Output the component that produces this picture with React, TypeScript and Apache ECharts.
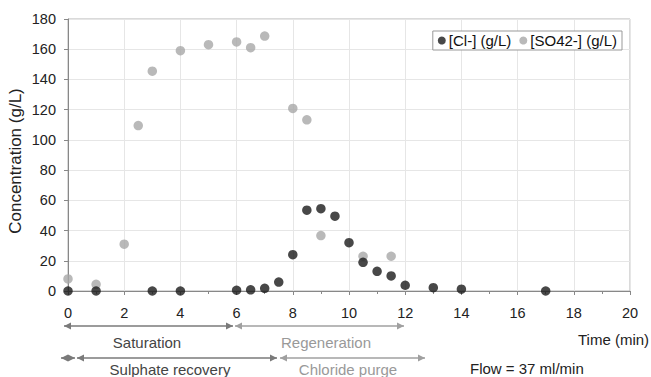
import React, { useEffect, useRef } from "react";
import * as echarts from "echarts";

const clTime = [0, 1, 3, 4, 6, 6.5, 7, 7.5, 8, 8.5, 9, 9.5, 10, 10.5, 11, 11.5, 12, 13, 14, 17];
const clValues = [0, 0, 0, 0, 0.5, 0.8, 1.8, 5.9, 24, 53.5, 54.5, 49.5, 32, 19, 13, 10, 3.8, 2.2, 1.2, 0];
const so4Time = [0, 1, 2, 2.5, 3, 4, 5, 6, 6.5, 7, 8, 8.5, 9, 10.5, 11.5];
const so4Values = [8, 4.4, 31, 109.5, 145.5, 159, 163, 164.8, 161, 168.7, 120.8, 113.3, 36.7, 23, 23];
const xTicks = [0, 2, 4, 6, 8, 10, 12, 14, 16, 18, 20];
const yTicks = [0, 20, 40, 60, 80, 100, 120, 140, 160, 180];

const FONT = "'Liberation Sans', Arial, sans-serif";

function arrow(x1: number, x2: number, y: number, color: string, left: boolean, right: boolean) {
  const els: any[] = [
    { type: "line", shape: { x1, y1: y, x2, y2: y }, style: { stroke: color, lineWidth: 1.5 } },
  ];
  if (left) {
    els.push({ type: "polygon", shape: { points: [[x1, y], [x1 + 7, y - 3.5], [x1 + 7, y + 3.5]] }, style: { fill: color } });
  }
  if (right) {
    els.push({ type: "polygon", shape: { points: [[x2, y], [x2 - 7, y - 3.5], [x2 - 7, y + 3.5]] }, style: { fill: color } });
  }
  return els;
}

export default function App() {
  const ref = useRef<HTMLDivElement>(null);
  useEffect(() => {
    if (!ref.current) return;
    const chart = echarts.init(ref.current, null, { renderer: "svg" });
    const dark = "#7a7a7a";
    const light = "#a0a0a0";
    const graphics: any[] = [
      ...arrow(64, 233, 326, dark, true, true),
      ...arrow(235, 404, 326, light, true, true),
      ...arrow(61, 75, 358, dark, true, true),
      ...arrow(77, 277, 358, dark, true, true),
      ...arrow(280, 425, 358, light, true, true),
      { type: "text", style: { text: "Saturation", x: 147, y: 342, align: "center", verticalAlign: "middle", font: `15px ${FONT}`, fill: "#444" } },
      { type: "text", style: { text: "Regeneration", x: 326, y: 342, align: "center", verticalAlign: "middle", font: `15px ${FONT}`, fill: "#999" } },
      { type: "text", style: { text: "Sulphate recovery", x: 170, y: 369, align: "center", verticalAlign: "middle", font: `15px ${FONT}`, fill: "#444" } },
      { type: "text", style: { text: "Chloride purge", x: 348, y: 369, align: "center", verticalAlign: "middle", font: `15px ${FONT}`, fill: "#999" } },
      { type: "text", style: { text: "Time (min)", x: 578, y: 339, align: "left", verticalAlign: "middle", font: `15px ${FONT}`, fill: "#222" } },
      { type: "text", style: { text: "Flow = 37 ml/min", x: 470, y: 368, align: "left", verticalAlign: "middle", font: `15px ${FONT}`, fill: "#222" } },
      {
        type: "text",
        x: 15,
        y: 161,
        rotation: Math.PI / 2,
        style: { text: "Concentration (g/L)", x: 0, y: 0, align: "center", verticalAlign: "middle", font: `17px ${FONT}`, fill: "#222" },
      },
    ];
    chart.setOption({
      animation: false,
      backgroundColor: "#fff",
      textStyle: { fontFamily: FONT },
      grid: { left: 68, right: 21, top: 19, bottom: 86, show: true, borderColor: "#b5b5b5", borderWidth: 1, outerBoundsMode: "none", containLabel: false },
      legend: {
        right: 29,
        top: 31,
        orient: "horizontal",
        padding: [2, 5, 2, 5],
        borderColor: "#999",
        borderWidth: 1,
        backgroundColor: "#fff",
        borderRadius: 0,
        itemWidth: 8,
        itemHeight: 8,
        itemGap: 8,
        textStyle: { fontSize: 15, color: "#111", fontFamily: FONT, padding: [0, 0, 0, -2] },
        data: [
          { name: "[Cl-] (g/L)", icon: "circle" },
          { name: "[SO42-] (g/L)", icon: "circle" },
        ],
      },
      xAxis: {
        type: "value",
        min: xTicks[0],
        max: xTicks[xTicks.length - 1],
        interval: 2,
        axisLine: { show: true, onZero: false, lineStyle: { color: "#888", width: 1 } },
        axisTick: { show: true, inside: false, length: 4, lineStyle: { color: "#888" } },
        minorTick: { show: true, splitNumber: 2, length: 3, lineStyle: { color: "#888" } },
        axisLabel: { fontSize: 14.5, color: "#222", margin: 14, fontFamily: FONT },
        splitLine: { show: true, lineStyle: { color: "#e6e6e6" } },
      },
      yAxis: {
        type: "value",
        min: yTicks[0],
        max: yTicks[yTicks.length - 1],
        interval: 20,
        axisLine: { show: true, lineStyle: { color: "#888", width: 1 } },
        axisTick: { show: true, length: 4, lineStyle: { color: "#888" } },
        axisLabel: { fontSize: 14.5, color: "#222", margin: 12, fontFamily: FONT },
        splitLine: { show: true, lineStyle: { color: "#e6e6e6" } },
      },
      series: [
        {
          name: "[Cl-] (g/L)",
          type: "scatter",
          symbol: "circle",
          symbolSize: 9.5,
          itemStyle: { color: "#1a1a1a" },
          data: clTime.map((t, i) => [t, clValues[i]]),
          z: 3,
        },
        {
          name: "[SO42-] (g/L)",
          type: "scatter",
          symbol: "circle",
          symbolSize: 9.5,
          itemStyle: { color: "#a8a8a8" },
          data: so4Time.map((t, i) => [t, so4Values[i]]),
          z: 2,
        },
      ],
      graphic: graphics,
    });
    return () => chart.dispose();
  }, []);
  return <div ref={ref} style={{ width: 651, height: 377, position: "absolute", left: 0, top: 0 }} />;
}
